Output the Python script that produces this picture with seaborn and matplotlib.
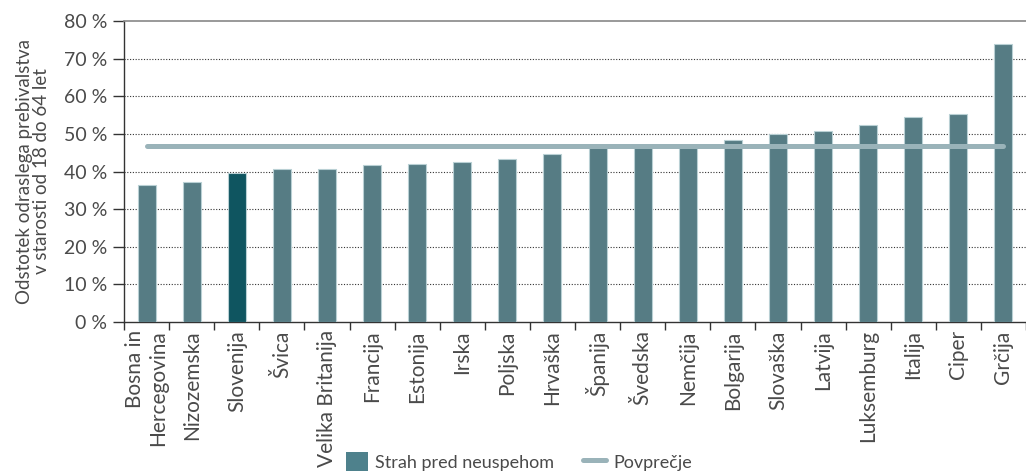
import matplotlib
matplotlib.use("Agg")
import matplotlib.pyplot as plt
from matplotlib.lines import Line2D
from matplotlib.patches import Patch
from matplotlib.ticker import FixedLocator, FuncFormatter
import seaborn as sns
import numpy as np

# Data
countries = ["Bosna in\nHercegovina", "Nizozemska", "Slovenija", "Švica", "Velika Britanija",
             "Francija", "Estonija", "Irska", "Poljska", "Hrvaška", "Španija", "Švedska",
             "Nemčija", "Bolgarija", "Slovaška", "Latvija", "Luksemburg", "Italija",
             "Ciper", "Grčija"]
fear_of_failure = [36.3, 37.3, 39.6, 40.6, 40.6, 41.6, 42.0, 42.6, 43.3, 44.7, 46.6, 46.8,
                   47.0, 48.5, 50.1, 50.7, 52.4, 54.6, 55.3, 73.9]
average = [46.9] * len(countries)
y_ticks = [0, 10, 20, 30, 40, 50, 60, 70, 80]

BAR = "#4e818c"
HIGHLIGHT = "#025f6d"
AVG = "#9ab3b9"
TEXT = "#4a4a4a"

sns.set_theme(style="white")
plt.rcParams["font.family"] = ["Lato", "DejaVu Sans"]
plt.rcParams["font.weight"] = "normal"

fig = plt.figure(figsize=(10.26, 4.73), dpi=100)
ax = fig.add_axes([0.1209, 0.3192, 0.8791, 0.6364])

palette = [HIGHLIGHT if c == "Slovenija" else BAR for c in countries]
sns.barplot(x=countries, y=fear_of_failure, hue=countries, palette=palette,
            legend=False, width=0.4, ax=ax, edgecolor="#b9d0d4", linewidth=0.8,
            zorder=3)

xs = np.arange(len(countries))
sns.lineplot(x=xs, y=average, color=AVG, linewidth=3.6, ax=ax, zorder=4,
             solid_capstyle="round")

ax.set_xlim(-0.5, len(countries) - 0.5)
ax.set_ylim(0, 80)
ax.yaxis.set_major_locator(FixedLocator(y_ticks))
ax.yaxis.set_major_formatter(FuncFormatter(lambda v, p: f"{int(v)} %"))

# dotted gridlines
for v in y_ticks[1:-1]:
    ax.axhline(v, color="#333333", linestyle=(0, (1, 1.5)), linewidth=0.8, zorder=1)

# category labels at centres, ticks at category boundaries
ax.set_xticks(xs)
ax.set_xticklabels(countries, rotation=90, ha="center", va="top",
                   multialignment="right", fontsize=15, color=TEXT)
ax.xaxis.set_minor_locator(FixedLocator(np.arange(-0.5, len(countries), 1.0)))
ax.tick_params(axis="x", which="major", length=0, pad=6)
ax.tick_params(axis="x", which="minor", length=6, width=1, color="#333333",
               direction="out", bottom=True)
ax.tick_params(axis="y", which="major", length=8, width=1, color="#333333",
               direction="out", left=True, labelsize=14, labelcolor=TEXT, pad=4)

for side in ["left", "bottom"]:
    ax.spines[side].set_color("#333333")
    ax.spines[side].set_linewidth(1.0)
ax.spines["top"].set_color("#888888")
ax.spines["top"].set_linewidth(1.2)
ax.spines["right"].set_visible(False)

ax.set_ylabel("Odstotek odraslega prebivalstva\nv starosti od 18 do 64 let",
              fontsize=13.5, color=TEXT, labelpad=10, linespacing=1.0)
ax.set_xlabel("")

handles = [Patch(facecolor=BAR, edgecolor="none"),
           Line2D([0], [0], color=AVG, linewidth=3.6, solid_capstyle="round")]
fig.legend(handles, ["Strah pred neuspehom", "Povprečje"], loc="center left",
           bbox_to_anchor=(0.328, 0.024), ncol=2, frameon=False, fontsize=13,
           labelcolor=TEXT, handlelength=1.25, handleheight=1.25, columnspacing=1.6,
           handletextpad=0.4, borderpad=0)

fig.savefig("out.png", dpi=100)
